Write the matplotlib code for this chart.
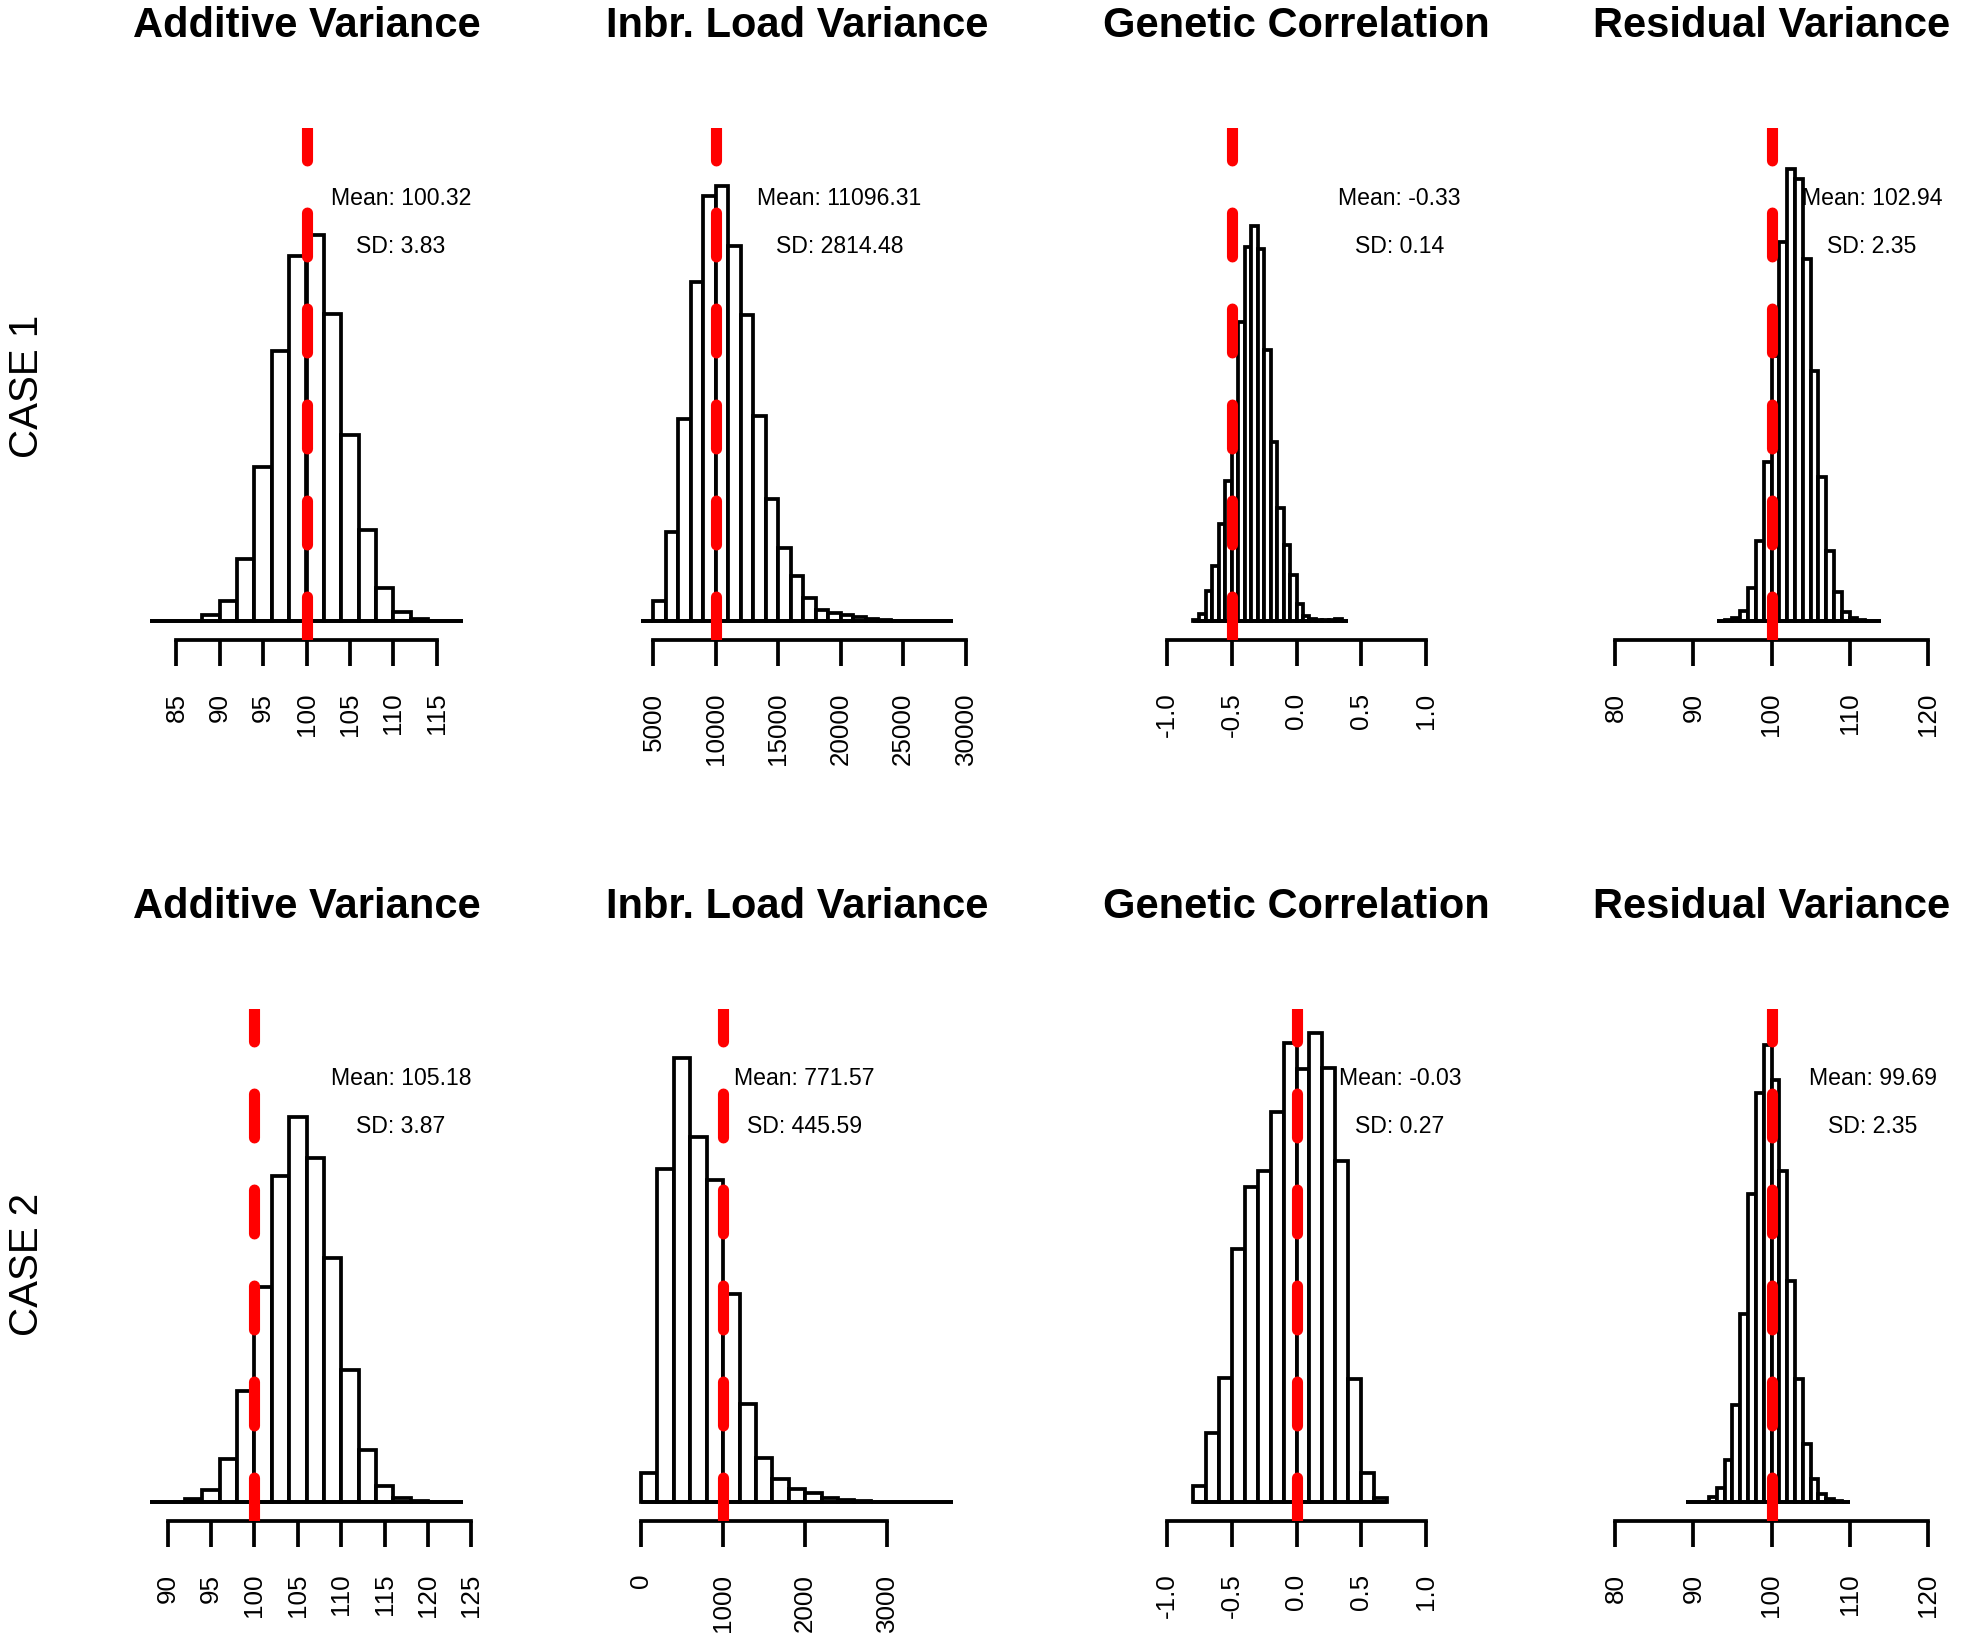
import matplotlib.pyplot as plt
import numpy as np

plt.rcParams['font.family'] = ['Liberation Sans', 'DejaVu Sans']

W, H = 1961, 1642

params = ['Additive Variance', 'Inbr. Load Variance', 'Genetic Correlation', 'Residual Variance']
cases = ['CASE 1', 'CASE 2']

# case 1 histograms (bin edges, bar heights)
c1_add_edges = [82, 84, 86, 88, 90, 92, 94, 96, 98, 100, 102, 104, 106, 108, 110, 112, 114, 116, 118]
c1_add_counts = [0, 0, 0, 6, 20, 62, 154, 270, 365, 386, 307, 186, 91, 33, 9, 2, 0, 0]

c1_inbr_edges = [4000, 5000, 6000, 7000, 8000, 9000, 10000, 11000, 12000, 13000, 14000, 15000, 16000,
                 17000, 18000, 19000, 20000, 21000, 22000, 23000, 24000, 25000, 26000, 27000, 28000, 29000]
c1_inbr_counts = [0, 20, 89, 202, 339, 425, 435, 375, 306, 205, 122, 73, 45, 23, 11, 8, 6, 4, 2, 1,
                  0, 0, 0, 0, 0]

c1_corr_edges = [-0.8, -0.75, -0.7, -0.65, -0.6, -0.55, -0.5, -0.45, -0.4, -0.35, -0.3, -0.25, -0.2,
                 -0.15, -0.1, -0.05, 0.0, 0.05, 0.1, 0.15, 0.2, 0.25, 0.3, 0.35, 0.4]
c1_corr_counts = [1, 7, 30, 55, 97, 140, 204, 299, 374, 395, 372, 271, 179, 113, 76, 46, 17, 5, 2, 1,
                  1, 1, 2, 0]

c1_res_edges = [93, 94, 95, 96, 97, 98, 99, 100, 101, 102, 103, 104, 105, 106, 107, 108, 109, 110,
                111, 112, 113, 114]
c1_res_counts = [0, 1, 3, 10, 33, 80, 159, 265, 379, 452, 442, 362, 250, 144, 70, 29, 9, 3, 1, 0, 0]

# case 2 histograms
c2_add_edges = [88, 90, 92, 94, 96, 98, 100, 102, 104, 106, 108, 110, 112, 114, 116, 118, 120, 122, 124]
c2_add_counts = [0, 0, 3, 12, 43, 111, 215, 326, 385, 344, 244, 132, 52, 16, 4, 1, 0, 0]

c2_inbr_edges = [0, 200, 400, 600, 800, 1000, 1200, 1400, 1600, 1800, 2000, 2200, 2400, 2600, 2800,
                 3000, 3200, 3400, 3600, 3800]
c2_inbr_counts = [29, 333, 444, 365, 322, 208, 98, 44, 23, 13, 9, 4, 2, 1, 0.5, 0, 0, 0, 0]

c2_corr_edges = [-0.8, -0.7, -0.6, -0.5, -0.4, -0.3, -0.2, -0.1, 0.0, 0.1, 0.2, 0.3, 0.4, 0.5, 0.6, 0.7]
c2_corr_counts = [16, 69, 124, 253, 315, 331, 390, 459, 433, 469, 434, 341, 123, 29, 4]

c2_res_edges = [89, 90, 91, 92, 93, 94, 95, 96, 97, 98, 99, 100, 101, 102, 103, 104, 105, 106, 107,
                108, 109, 110]
c2_res_counts = [0, 0, 0, 5, 14, 42, 97, 188, 308, 409, 457, 422, 331, 221, 123, 58, 23, 8, 3, 1, 0]

edges = [[c1_add_edges, c1_inbr_edges, c1_corr_edges, c1_res_edges],
         [c2_add_edges, c2_inbr_edges, c2_corr_edges, c2_res_edges]]
counts = [[c1_add_counts, c1_inbr_counts, c1_corr_counts, c1_res_counts],
          [c2_add_counts, c2_inbr_counts, c2_corr_counts, c2_res_counts]]

true_values = [[100, 10000, -0.5, 100], [100, 1000, 0.0, 100]]
means = [['100.32', '11096.31', '-0.33', '102.94'], ['105.18', '771.57', '-0.03', '99.69']]
sds = [['3.83', '2814.48', '0.14', '2.35'], ['3.87', '445.59', '0.27', '2.35']]

ticks = [[[85, 90, 95, 100, 105, 110, 115], [5000, 10000, 15000, 20000, 25000, 30000],
          [-1.0, -0.5, 0.0, 0.5, 1.0], [80, 90, 100, 110, 120]],
         [[90, 95, 100, 105, 110, 115, 120, 125], [0, 1000, 2000, 3000],
          [-1.0, -0.5, 0.0, 0.5, 1.0], [80, 90, 100, 110, 120]]]
fixed_xlim = [None, None, (-1.3, 1.3), (78.4, 121.6)]

# layout in pixels
col_left = [138, 628.5, 1128, 1603]
col_w = 337
row_top = [128, 1009]
row_h = 512
ytop = 474
title_base = [37.3, 918.3]
stat_x = [[401, 839.5, 1399.5, 1872], [401, 804.3, 1400, 1873]]
stat_base = [(205, 252.8), (1085.2, 1132.7)]
case_pos = [(27, 386.7), (27, 1264)]

LW = 2.7


def fx(px):
    return px / W


def fy(py):
    return 1 - py / H


def fmt(v):
    return f'{v:.1f}' if isinstance(v, float) else str(v)


fig = plt.figure(figsize=(W / 100, H / 100), dpi=100)
fig.patch.set_facecolor('white')

for r in range(2):
    for c in range(4):
        ax = fig.add_axes([fx(col_left[c]), fy(row_top[r] + row_h), col_w / W, row_h / H])
        e = np.array(edges[r][c], dtype=float)
        h = counts[r][c]
        ax.bar(e[:-1], h, width=np.diff(e), align='edge', color='white', edgecolor='black',
               linewidth=LW, zorder=2)
        ax.hlines(0, e[0], e[-1], color='black', linewidth=LW, zorder=2)

        if fixed_xlim[c] is None:
            span = e[-1] - e[0]
            ax.set_xlim(e[0] - 0.04 * span, e[-1] + 0.04 * span)
        else:
            ax.set_xlim(*fixed_xlim[c])
        ax.set_ylim(-0.04 * ytop, 1.04 * ytop)

        ax.plot([true_values[r][c]] * 2, [1, 0], transform=ax.get_xaxis_transform(),
                color='#ff0000', linewidth=8, linestyle=(1.03, (3.95, 4.69)),
                dash_capstyle='round', zorder=4)

        t = ticks[r][c]
        ax.set_xticks(t, [fmt(v) for v in t])
        ax.tick_params(axis='x', direction='out', length=18.9, width=LW, pad=19,
                       labelsize=18.7, labelrotation=90)
        ax.set_yticks([])
        for s in ['left', 'right', 'top']:
            ax.spines[s].set_visible(False)
        ax.spines['bottom'].set_bounds(t[0], t[-1])
        ax.spines['bottom'].set_linewidth(LW)
        ax.patch.set_alpha(0)

        cx = col_left[c] + col_w / 2
        fig.text(fx(cx), fy(title_base[r]), params[c], ha='center', va='baseline',
                 fontsize=30, fontweight='bold')
        fig.text(fx(stat_x[r][c]), fy(stat_base[r][0]), f'Mean: {means[r][c]}', ha='center',
                 va='baseline', fontsize=16.6)
        fig.text(fx(stat_x[r][c]), fy(stat_base[r][1]), f'SD: {sds[r][c]}', ha='center',
                 va='baseline', fontsize=16.6)

    fig.text(fx(case_pos[r][0]), fy(case_pos[r][1]), cases[r], rotation=90, ha='center',
             va='center', fontsize=29)

fig.savefig('out.png', dpi=100, facecolor='white')
plt.close(fig)
